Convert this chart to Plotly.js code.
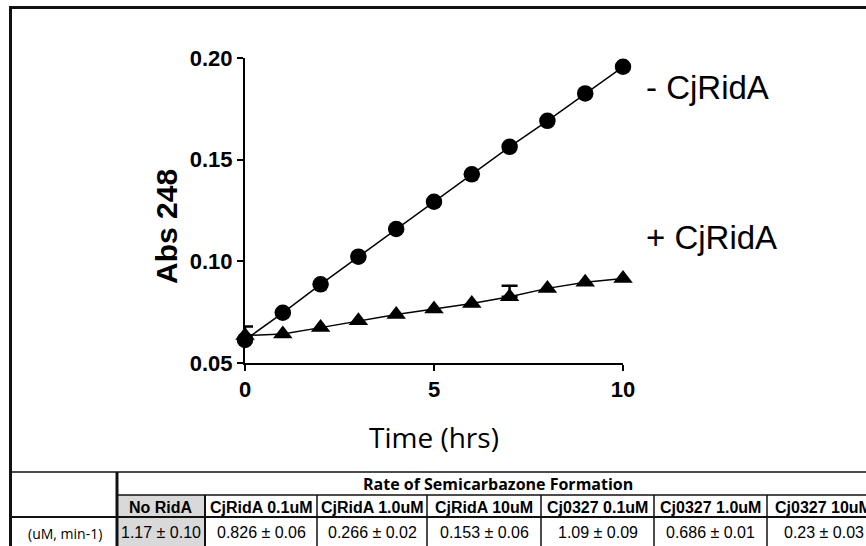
<!DOCTYPE html>
<html>
<head>
<meta charset="utf-8">
<script src="https://cdn.plot.ly/plotly-3.0.1.min.js"></script>
<style>
  html, body { margin: 0; padding: 0; background: #ffffff; }
  #chart { width: 866px; height: 546px; }
</style>
</head>
<body>
<div id="chart"></div>
<script>
// ---- data ----
const timeHrs = [0, 1, 2, 3, 4, 5, 6, 7, 8, 9, 10];
const absNoRidA = [0.0613, 0.0747, 0.0887, 0.1023, 0.1159, 0.1293, 0.1428, 0.1563, 0.1691, 0.1826, 0.1957];
const absWithRidA = [0.0635, 0.0643, 0.0674, 0.0708, 0.0739, 0.0766, 0.0793, 0.0826, 0.0867, 0.0897, 0.0916];
const errTimes = [0, 7];
const errUpper = [0.0045, 0.0054];
const seriesLabels = ['- CjRidA', '+ CjRidA'];
const xTicks = [0, 5, 10];
const yTicks = [0.05, 0.10, 0.15, 0.20];

const tableTitle = 'Rate of Semicarbazone Formation';
const rowLabel = '(uM, min-1)';
const conditions = ['No RidA', 'CjRidA 0.1uM', 'CjRidA 1.0uM', 'CjRidA 10uM', 'Cj0327 0.1uM', 'Cj0327 1.0uM', 'Cj0327 10uM'];
const rates = ['1.17 ± 0.10', '0.826 ± 0.06', '0.266 ± 0.02', '0.153 ± 0.06', '1.09 ± 0.09', '0.686 ± 0.01', '0.23 ± 0.03'];

// ---- layout helpers (pixel -> paper) ----
const W = 866, H = 546;
const px = v => v / W;
const py = v => 1 - v / H;

const errY = errTimes.map(t => absWithRidA[timeHrs.indexOf(t)]);

const traces = [
  {
    x: timeHrs, y: absNoRidA, type: 'scatter', mode: 'lines+markers',
    line: {color: '#000', width: 1.5},
    marker: {symbol: 'circle', size: 16.5, color: '#000'},
    cliponaxis: false, showlegend: false, hoverinfo: 'x+y'
  },
  {
    x: timeHrs, y: absWithRidA, type: 'scatter', mode: 'lines+markers',
    line: {color: '#000', width: 1.5},
    marker: {symbol: 'triangle-up', size: 17, color: '#000'},
    cliponaxis: false, showlegend: false, hoverinfo: 'x+y'
  },
  {
    x: errTimes, y: errY, type: 'scatter', mode: 'markers',
    marker: {size: 1, color: 'rgba(0,0,0,0)'},
    error_y: {type: 'data', symmetric: false, array: errUpper, arrayminus: errUpper.map(() => 0),
              color: '#000', thickness: 2.5, width: 8},
    cliponaxis: false, showlegend: false, hoverinfo: 'skip'
  }
];

// ---- table geometry ----
const colEdges = [117, 205, 317, 427, 541, 654, 767, 880];
const yTop = 472, yHead = 495, yVal = 517, yBot = 546;

const shapes = [];
const annotations = [];

// gray first column
shapes.push({type: 'rect', xref: 'paper', yref: 'paper', x0: px(colEdges[0]), x1: px(colEdges[1]),
  y0: py(yBot), y1: py(yHead), fillcolor: '#d9d9d9', line: {width: 0}, layer: 'below'});

function hline(y, x0, x1, w) {
  shapes.push({type: 'line', xref: 'paper', yref: 'paper', x0: px(x0), x1: px(x1), y0: py(y), y1: py(y),
    line: {color: '#111', width: w}});
}
function vline(x, y0, y1, w) {
  shapes.push({type: 'line', xref: 'paper', yref: 'paper', x0: px(x), x1: px(x), y0: py(y0), y1: py(y1),
    line: {color: '#111', width: w}});
}
// outer frame
hline(7.5, 9, 900, 3);
vline(10.5, 6, 560, 3);
// table lines
hline(yTop, 11, 900, 1.5);
hline(yHead, colEdges[0], 900, 1.5);
hline(yVal, 11, 900, 2);
vline(colEdges[0], yTop, 560, 3);
for (let i = 1; i < colEdges.length - 1; i++) vline(colEdges[i], yHead, 560, i === 1 ? 2 : 1.5);

annotations.push({xref: 'paper', yref: 'paper', x: px((colEdges[0] + colEdges[colEdges.length - 1]) / 2), y: py(484),
  text: '<b>' + tableTitle + '</b>', showarrow: false, xanchor: 'center', yanchor: 'middle',
  font: {family: 'Open Sans, sans-serif', size: 16, color: '#000'}});
annotations.push({xref: 'paper', yref: 'paper', x: px(65), y: py(533),
  text: rowLabel, showarrow: false, xanchor: 'center', yanchor: 'middle',
  font: {family: 'Open Sans, sans-serif', size: 14, color: '#000'}});
conditions.forEach((c, i) => {
  const cx = (colEdges[i] + colEdges[i + 1]) / 2;
  annotations.push({xref: 'paper', yref: 'paper', x: px(cx), y: py(507),
    text: '<b>' + c + '</b>', showarrow: false, xanchor: 'center', yanchor: 'middle',
    font: {family: 'Liberation Sans, Arial, sans-serif', size: 16, color: '#000'}});
  annotations.push({xref: 'paper', yref: 'paper', x: px(cx), y: py(532),
    text: rates[i], showarrow: false, xanchor: 'center', yanchor: 'middle',
    font: {family: 'Liberation Sans, Arial, sans-serif', size: 16, color: '#000'}});
});

// series labels
annotations.push({xref: 'paper', yref: 'paper', x: px(644), y: py(87), text: seriesLabels[0],
  showarrow: false, xanchor: 'left', yanchor: 'middle',
  font: {family: 'Liberation Sans, Arial, sans-serif', size: 33, color: '#000'}});
annotations.push({xref: 'paper', yref: 'paper', x: px(644), y: py(237), text: seriesLabels[1],
  showarrow: false, xanchor: 'left', yanchor: 'middle',
  font: {family: 'Liberation Sans, Arial, sans-serif', size: 33, color: '#000'}});

// axis titles
annotations.push({xref: 'paper', yref: 'paper', x: px(166), y: py(227), text: '<b>Abs 248</b>',
  textangle: -90, showarrow: false, xanchor: 'center', yanchor: 'middle',
  font: {family: 'Liberation Sans, Arial, sans-serif', size: 30, color: '#000'}});
annotations.push({xref: 'paper', yref: 'paper', x: px(434), y: py(437), text: 'Time (hrs)',
  showarrow: false, xanchor: 'center', yanchor: 'middle',
  font: {family: 'Open Sans, sans-serif', size: 28, color: '#000'}});

const layout = {
  width: W, height: H,
  margin: {l: 0, r: 0, t: 0, b: 0, pad: 0},
  paper_bgcolor: '#fff', plot_bgcolor: 'rgba(0,0,0,0)',
  showlegend: false,
  xaxis: {
    domain: [px(245), px(623)], range: [0, 10],
    showline: true, linecolor: '#000', linewidth: 2,
    ticks: 'outside', ticklen: 6, tickwidth: 2, tickcolor: '#000',
    tickvals: xTicks, showgrid: false, zeroline: false,
    tickfont: {family: 'Liberation Sans, Arial, sans-serif', size: 22, color: '#000', weight: 'bold'},
    fixedrange: true
  },
  yaxis: {
    domain: [py(363), py(58)], range: [0.05, 0.20],
    showline: true, linecolor: '#000', linewidth: 2,
    ticks: 'outside', ticklen: 6, tickwidth: 2, tickcolor: '#000',
    tickvals: yTicks, tickformat: '.2f', showgrid: false, zeroline: false,
    tickfont: {family: 'Liberation Sans, Arial, sans-serif', size: 22, color: '#000', weight: 'bold'},
    fixedrange: true
  },
  shapes: shapes,
  annotations: annotations
};

Plotly.newPlot('chart', traces, layout, {displayModeBar: false, staticPlot: true});
</script>
</body>
</html>
